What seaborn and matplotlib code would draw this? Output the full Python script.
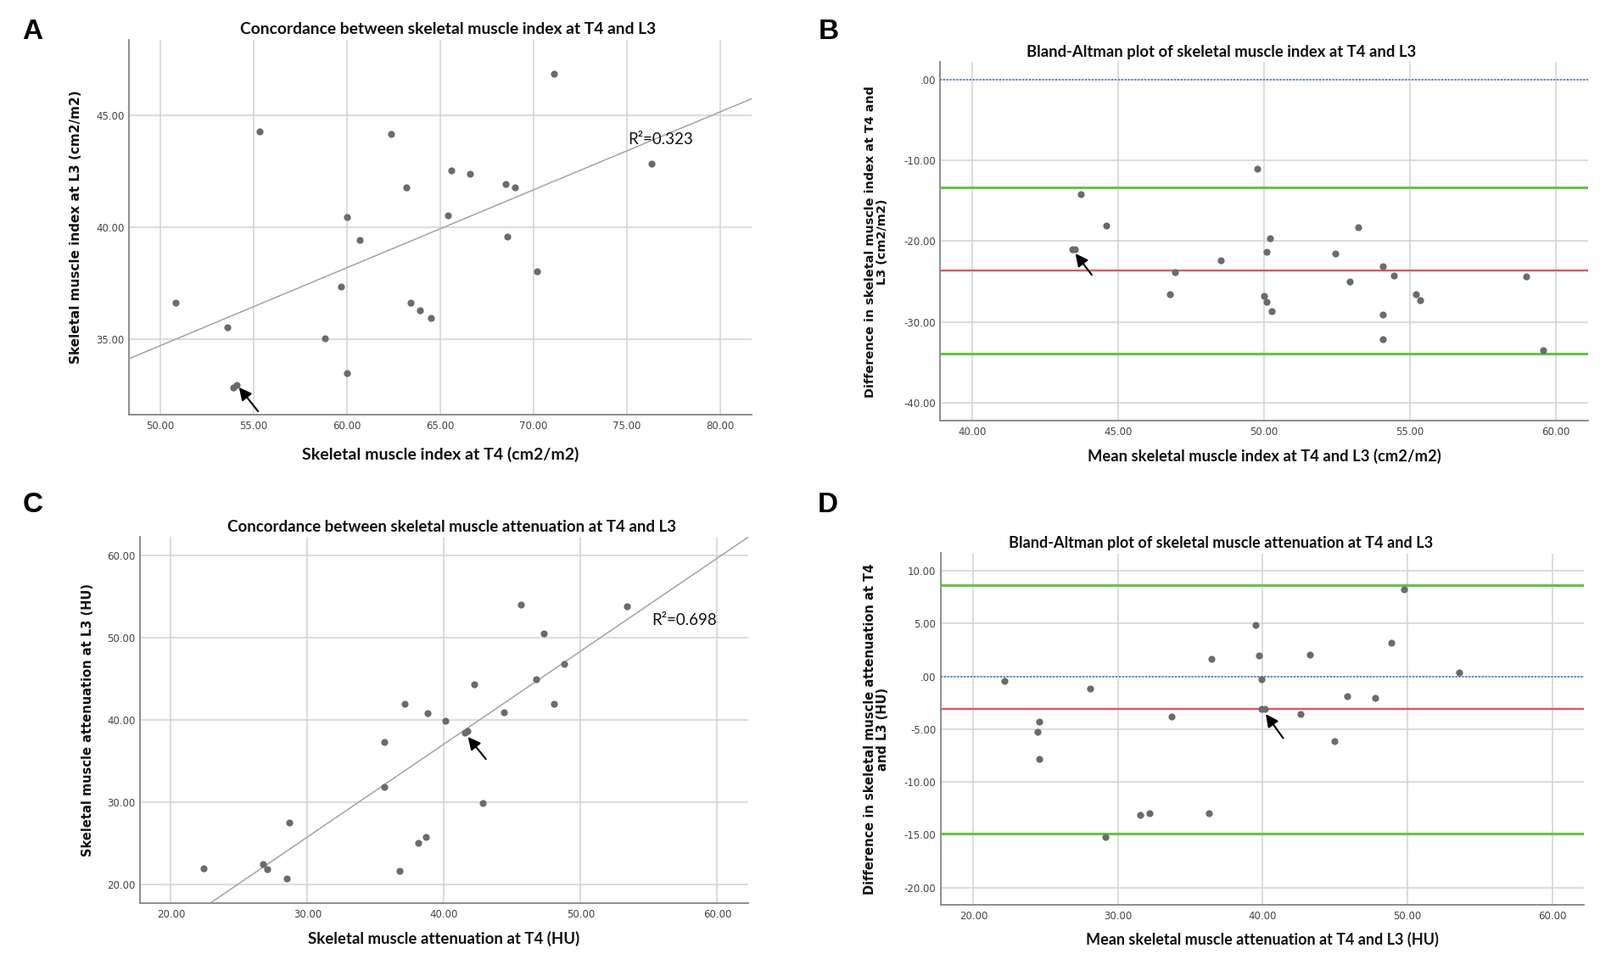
import numpy as np
import pandas as pd
import matplotlib
matplotlib.use("Agg")
import matplotlib.pyplot as plt
import seaborn as sns
from matplotlib.ticker import FuncFormatter, FixedLocator

# ---------------- data ----------------
# Panel A: skeletal muscle index, T4 vs L3
smi_t4 = [50.8, 53.6, 55.3, 53.92, 54.09, 58.8, 59.7, 60.0, 60.0, 60.7, 62.35, 63.2,
          63.4, 63.9, 64.5, 65.4, 65.6, 66.6, 68.5, 68.6, 69.0, 70.2, 71.1, 76.3]
smi_l3 = [36.64, 35.55, 44.27, 32.83, 32.95, 35.05, 37.36, 40.45, 33.5, 39.45, 44.18, 41.77,
          36.64, 36.3, 35.95, 40.55, 42.55, 42.4, 41.95, 39.6, 41.8, 38.05, 46.86, 42.86]
r2_A = "R\u00b2=0.323"

# Panel B: Bland-Altman of skeletal muscle index
smi_mean = [43.43, 43.5, 43.7, 44.58, 46.77, 46.94, 48.51, 49.77, 50.0, 50.09, 50.09, 50.21,
            50.26, 52.45, 52.94, 53.23, 54.06, 54.07, 54.07, 54.44, 55.21, 55.35, 58.99, 59.56]
smi_diff = [-21.06, -21.06, -14.2, -18.08, -26.57, -23.85, -22.34, -11.06, -26.75, -27.58, -21.32, -19.62,
            -28.64, -21.55, -24.98, -18.3, -23.17, -29.09, -32.15, -24.23, -26.57, -27.28, -24.38, -33.47]
smi_bias = -23.6
smi_loa = [-13.4, -33.9]

# Panel C: skeletal muscle attenuation, T4 vs L3
sma_t4 = [22.39, 26.75, 27.05, 28.5, 28.66, 35.6, 35.6, 36.75, 37.09, 38.1, 38.69, 38.77,
          40.07, 41.53, 41.68, 42.2, 42.8, 44.4, 45.63, 46.75, 47.31, 48.02, 48.77, 53.4]
sma_l3 = [21.99, 22.5, 21.84, 20.74, 27.56, 37.34, 31.88, 21.66, 41.96, 25.02, 25.76, 40.81,
          39.89, 38.49, 38.64, 44.32, 29.93, 40.89, 53.95, 44.94, 50.52, 41.96, 46.79, 53.8]
r2_C = "R\u00b2=0.698"

# Panel D: Bland-Altman of skeletal muscle attenuation
sma_mean = [22.15, 24.44, 24.58, 24.58, 28.06, 29.15, 31.51, 32.18, 33.7, 36.27, 36.44, 39.51,
            39.72, 39.93, 39.93, 40.14, 42.6, 43.24, 44.93, 45.81, 47.78, 48.87, 49.79, 53.56]
sma_diff = [-0.43, -5.27, -4.29, -7.84, -1.18, -15.19, -13.11, -13.0, -3.78, -12.94, 1.7, 4.84,
            1.99, -0.23, -3.08, -3.08, -3.54, 2.07, -6.11, -1.84, -2.05, 3.23, 8.24, 0.37]
sma_bias = -3.11
sma_loa = [8.62, -14.9]

# tick values
ticks_A_x = [50, 55, 60, 65, 70, 75, 80]
ticks_A_y = [35, 40, 45]
ticks_B_x = [40, 45, 50, 55, 60]
ticks_B_y = [0, -10, -20, -30, -40]
ticks_C_x = [20, 30, 40, 50, 60]
ticks_C_y = [20, 30, 40, 50, 60]
ticks_D_x = [20, 30, 40, 50, 60]
ticks_D_y = [10, 5, 0, -5, -10, -15, -20]

titles = ["Concordance between skeletal muscle index at T4 and L3",
          "Bland-Altman plot of skeletal muscle index at T4 and L3",
          "Concordance between skeletal muscle attenuation at T4 and L3",
          "Bland-Altman plot of skeletal muscle attenuation at T4 and L3"]
xlabels = ["Skeletal muscle index at T4 (cm2/m2)",
           "Mean skeletal muscle index at T4 and L3 (cm2/m2)",
           "Skeletal muscle attenuation at T4 (HU)",
           "Mean skeletal muscle attenuation at T4 and L3 (HU)"]
ylabels = ["Skeletal muscle index at L3 (cm2/m2)",
           "Difference in skeletal muscle index at T4 and\nL3 (cm2/m2)",
           "Skeletal muscle attenuation at L3 (HU)",
           "Difference in skeletal muscle attenuation at T4\nand L3 (HU)"]
panel_letters = ["A", "B", "C", "D"]

# ---------------- style ----------------
sns.set_theme(style="whitegrid")
plt.rcParams['font.family'] = ['DejaVu Sans']

POINT = "#6b6b6b"
GRID = "#d2d2d2"
SPINE = "#858585"
TICKC = "#444444"
GREEN = "#6abf4f"
RED = "#e0575f"
BLUE = "#4a86c8"
FIT = "#a3a3a3"

LATO = ['Lato', 'DejaVu Sans']


def spss_fmt(v, pos=None):
    s = f"{v:.2f}"
    if s in ("0.00", "-0.00"):
        return ".00"
    return s


fig = plt.figure(figsize=(18.86, 11.25), dpi=100)
fig.patch.set_facecolor("white")

axA = fig.add_axes([0.0808, 0.5651, 0.3892, 0.3935])
axB = fig.add_axes([0.5877, 0.5588, 0.4049, 0.3761])
axC = fig.add_axes([0.0877, 0.0536, 0.3797, 0.3833])
axD = fig.add_axes([0.5880, 0.0514, 0.4020, 0.3686])


def style(ax, xlim, ylim, xt, yt, title, title_x, title_fs, xlab, xlab_y, xlab_fs,
          ylab, ylab_x, ylab_fs):
    ax.set_facecolor("white")
    ax.set_xlim(*xlim)
    ax.set_ylim(*ylim)
    ax.xaxis.set_major_locator(FixedLocator(xt))
    ax.yaxis.set_major_locator(FixedLocator(yt))
    ax.xaxis.set_major_formatter(FuncFormatter(spss_fmt))
    ax.yaxis.set_major_formatter(FuncFormatter(spss_fmt))
    ax.grid(True, color=GRID, linewidth=1.1)
    ax.set_axisbelow(True)
    for side in ("top", "right"):
        ax.spines[side].set_visible(False)
    for side in ("left", "bottom"):
        ax.spines[side].set_visible(True)
        ax.spines[side].set_color(SPINE)
        ax.spines[side].set_linewidth(1.3)
    ax.tick_params(axis='x', length=0, pad=5, labelsize=8.5, labelcolor=TICKC)
    ax.tick_params(axis='y', length=0, pad=4, labelsize=8.5, labelcolor=TICKC)
    ax.set_title(title, x=title_x, pad=4.5, family=LATO, fontweight='bold',
                 fontsize=title_fs, color='#111111')
    ax.set_xlabel(xlab, va='center', family=LATO, fontweight='bold',
                  fontsize=xlab_fs, color='#111111')
    ax.xaxis.set_label_coords(0.5, xlab_y)
    ax.set_ylabel(ylab, va='center', linespacing=0.95, family=['DejaVu Sans'],
                  fontweight='bold', fontsize=ylab_fs, color='#111111')
    ax.yaxis.set_label_coords(ylab_x, 0.5)


def scatter(ax, x, y):
    df = pd.DataFrame({"x": x, "y": y})
    sns.scatterplot(data=df, x="x", y="y", ax=ax, color=POINT, s=35,
                    linewidth=0, zorder=4, legend=False)


ARROW = dict(arrowstyle='-|>', color='black', lw=1.5, mutation_scale=22, shrinkA=0, shrinkB=0)

# ---- Panel A ----
limA = ((48.34, 81.7), (31.62, 48.39))
axA.set_xlim(*limA[0]); axA.set_ylim(*limA[1])
sns.regplot(x=np.array(smi_t4), y=np.array(smi_l3), ax=axA, scatter=False, ci=None,
            truncate=False, line_kws=dict(color=FIT, lw=1.1, zorder=3))
scatter(axA, smi_t4, smi_l3)
style(axA, *limA, ticks_A_x, ticks_A_y, titles[0], 0.512, 13.9, xlabels[0], -0.105, 14.0,
      ylabels[0], -0.0862, 11.0)
axA.text(75.05, 43.7, r2_A, family=LATO, fontsize=13.5, color='#111111',
         va='baseline', ha='left', zorder=5)
axA.annotate("", xy=(54.22, 32.85), xytext=(55.24, 31.78), arrowprops=ARROW, zorder=6)

# ---- Panel B ----
limB = ((38.9, 61.1), (-42.26, 2.14))
scatter(axB, smi_mean, smi_diff)
axB.axhline(0, color=BLUE, lw=1.4, linestyle=(0, (1, 1)), zorder=3)
axB.axhline(smi_bias, color=RED, lw=1.7, zorder=3)
for v in smi_loa:
    axB.axhline(v, color=GREEN, lw=2.2, zorder=3)
style(axB, *limB, ticks_B_x, ticks_B_y, titles[1], 0.434, 13.3, xlabels[1], -0.0974, 13.2,
      ylabels[1], -0.0987, 10.4)
axB.annotate("", xy=(43.53, -21.55), xytext=(44.09, -24.19), arrowprops=ARROW, zorder=6)

# ---- Panel C ----
limC = ((17.76, 62.24), (17.79, 62.17))
axC.set_xlim(*limC[0]); axC.set_ylim(*limC[1])
sns.regplot(x=np.array(sma_t4), y=np.array(sma_l3), ax=axC, scatter=False, ci=None,
            truncate=False, line_kws=dict(color=FIT, lw=1.1, zorder=3))
scatter(axC, sma_t4, sma_l3)
style(axC, *limC, ticks_C_x, ticks_C_y, titles[2], 0.512, 13.5, xlabels[2], -0.0988, 13.4,
      ylabels[2], -0.0866, 10.5)
axC.text(55.2, 51.5, r2_C, family=LATO, fontsize=13.5, color='#111111',
         va='baseline', ha='left', zorder=5)
axC.annotate("", xy=(41.75, 37.93), xytext=(43.06, 35.24), arrowprops=ARROW, zorder=6)

# ---- Panel D ----
limD = ((17.75, 62.2), (-21.66, 11.67))
scatter(axD, sma_mean, sma_diff)
axD.axhline(0, color=BLUE, lw=1.4, linestyle=(0, (1, 1)), zorder=3)
axD.axhline(sma_bias, color=RED, lw=1.7, zorder=3)
for v in sma_loa:
    axD.axhline(v, color=GREEN, lw=2.2, zorder=3)
style(axD, *limD, ticks_D_x, ticks_D_y, titles[3], 0.435, 13.1, xlabels[3], -0.0977, 13.0,
      ylabels[3], -0.100, 10.5)
axD.annotate("", xy=(40.21, -3.57), xytext=(41.41, -5.85), arrowprops=ARROW, zorder=6)

# panel letters
letter_pos = [(26, 22), (965, 22), (27, 580), (964, 580)]
for letter, (px, py) in zip(panel_letters, letter_pos):
    fig.text(px / 1886, 1 - py / 1125, letter, family=['Liberation Sans', 'DejaVu Sans'],
             fontweight='bold', fontsize=24, ha='left', va='top', color='black')

fig.savefig("out.png", dpi=100, facecolor="white")
